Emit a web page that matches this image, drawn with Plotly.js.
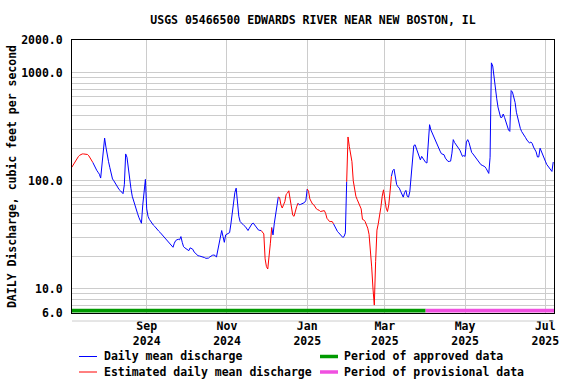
<!DOCTYPE html>
<html><head><meta charset="utf-8">
<script src="https://cdn.plot.ly/plotly-3.0.1.min.js"></script>
<style>html,body{margin:0;padding:0;background:#fff}</style>
</head><body><div id="chart" style="width:576px;height:384px"></div>
<script>
// ---- data (daily mean discharge, cfs), starting 2024-07-06 ----
const startDate = '2024-07-06';
const discharge = [
  // Jul 6-31 2024
  133,140,148,155,160,167,172,175,177,177,176,176,175,170,162,155,148,138,130,125,120,115,106,136,200,248,
  // Aug
  205,168,150,132,115,104,100,95,90,86,83,81,78,76,92,177,165,128,100,85,72,65,60,55,50,46,42,40.5,60,85,103,
  // Sep
  55,47,44,42,40.5,39,38,36.5,35.5,34.4,33.5,32.5,31.5,30.5,29.5,28.5,27.5,26.8,26,25.2,24.3,26.5,28,28.5,28.8,28.5,30.5,27,24.6,24,
  // Oct
  23.5,23,22.6,24,23.8,23.3,22,21.3,20.8,20.3,20.2,20.1,20,19.9,19.5,19.2,19.2,19.3,19.8,20.3,20.5,20.6,20.4,19.7,23,27,31,34.7,30.5,27,31.6,
  // Nov
  32,32.5,33.2,40,52,66,78,85.5,58,47,42,40.5,39.5,38.5,37.7,36.5,34.7,36.5,38.5,40,40.6,39,37,35.5,35,34.8,34.7,33.5,32.3,19,
  // Dec
  16.1,15.3,19.2,26.5,37,31.6,40.6,50,60,70.6,70,60,56,60,64.3,75,77,80.8,68,55,48,47,54,57.8,62,60,60.5,61,62,63,66,
  // Jan 2025
  84,80,68,63,61,60,57,55,54,53.5,52,52.5,53,53,50,45,43.5,42,42,42,40,37.5,35,34,33,32,30.5,30,30.5,33,98,
  // Feb
  254,208,175,150,100,82,72,67,62,59,55,44,43.5,42,39,36.5,32,24,16,10,7.1,18,35,40,46,57,72,82.5,
  // Mar
  68,56,52,60,80,110,124,128,102,92,88,85.5,80,75,70.6,77.9,81.5,72,70.6,79.6,110,165,211,215,200,185,170,156,168,160,154,
  // Apr
  148,146,210,330,295,275,257,240,228,212,200,188,178,176,174,162,155,151,151,152,180,240,226,218,208,200,192,180,168,171,
  // May
  168,228,240,225,198,183,177,170,163,155,149,144,141,139,138,135,130,122,117,165,1230,1150,880,690,580,480,420,385,385,414,385,
  // Jun
  345,315,295,286,682,660,600,530,430,380,340,305,285,270,262,250,238,228,223,228,222,205,195,185,166,166,200,185,175,160,
  // Jul 1-7
  152,142,136,130,125,122,149
];
// estimated (red) periods, inclusive
const estimatedStart = ['2024-07-06','2024-11-27','2024-12-10','2025-01-01','2025-01-31'];
const estimatedEnd   = ['2024-07-22','2024-12-05','2024-12-25','2025-01-21','2025-03-06'];
// data-approval periods
const approvedPeriod = ['2024-07-05','2025-04-01'];
const provisionalPeriod = ['2025-04-01','2025-07-08'];
// axes
const xRange = ['2024-07-06 05:00','2025-07-07 14:00'];
const xTickVals = ['2024-09-01','2024-11-01','2025-01-01','2025-03-01','2025-05-01','2025-07-01'];
const xTickText = ['Sep<br>2024','Nov<br>2024','Jan<br>2025','Mar<br>2025','May<br>2025','Jul<br>2025'];
const yTickVals = [6,7,8,9,10,20,30,40,50,60,70,80,90,100,200,300,400,500,600,700,800,900,1000,2000];
const yLabeled = {6:'6.0',10:'10.0',100:'100.0',1000:'1000.0',2000:'2000.0'};
const yRange = [6,2000];
const titleText = 'USGS 05466500 EDWARDS RIVER NEAR NEW BOSTON, IL';
const yTitleText = 'DAILY Discharge, cubic feet per second';
const legendLabels = ['Daily mean discharge','Estimated daily mean discharge','Period of approved data','Period of provisional data'];

// ---- build ----
const [sy, sm, sd] = startDate.split('-').map(Number);
const dates = discharge.map((_, i) => {
  const t = Date.UTC(sy, sm - 1, sd) + i * 86400000;
  return new Date(t).toISOString().slice(0, 10);
});
function isEst(d, strict) {
  for (let k = 0; k < estimatedStart.length; k++) {
    if (strict ? (d > estimatedStart[k] && d < estimatedEnd[k]) : (d >= estimatedStart[k] && d <= estimatedEnd[k])) return true;
  }
  return false;
}
const blueY = discharge.map((v, i) => isEst(dates[i], true) ? null : v);
const redY = discharge.map((v, i) => isEst(dates[i], false) ? v : null);

const FONT = 'DejaVu Sans Mono, Liberation Mono, monospace';
const fnt = (s) => ({family: FONT, size: s, color: '#000', weight: 'bold'});

const P = {l: 72, r: 554, t: 40, b: 313};
const px = x => (x - P.l) / (P.r - P.l);
const py = y => (P.b - y) / (P.b - P.t);

const traces = [
  {x: dates, y: blueY, type: 'scatter', mode: 'lines', line: {color: '#0000ff', width: 1}, connectgaps: false, hoverinfo: 'x+y'},
  {x: dates, y: redY, type: 'scatter', mode: 'lines', line: {color: '#ff0000', width: 1}, connectgaps: false, hoverinfo: 'x+y'}
];

const shapes = [
  {type: 'rect', xref: 'x', yref: 'paper', x0: approvedPeriod[0], x1: approvedPeriod[1], y0: py(312.4), y1: py(308.8), fillcolor: '#009a00', line: {width: 0}},
  {type: 'rect', xref: 'x', yref: 'paper', x0: provisionalPeriod[0], x1: provisionalPeriod[1], y0: py(312.4), y1: py(308.8), fillcolor: '#f050e0', line: {width: 0}},
  {type: 'line', xref: 'paper', yref: 'paper', x0: 0, x1: 1, y0: py(321), y1: py(321), line: {color: '#cccccc', width: 1}},
  // legend symbols
  {type: 'line', xref: 'paper', yref: 'paper', x0: px(79), x1: px(97), y0: py(356.5), y1: py(356.5), line: {color: '#0000ff', width: 1}},
  {type: 'line', xref: 'paper', yref: 'paper', x0: px(79), x1: px(97), y0: py(372), y1: py(372), line: {color: '#ff0000', width: 1}},
  {type: 'line', xref: 'paper', yref: 'paper', x0: px(320), x1: px(338), y0: py(356.5), y1: py(356.5), line: {color: '#009a00', width: 3.5}},
  {type: 'line', xref: 'paper', yref: 'paper', x0: px(320), x1: px(338), y0: py(372), y1: py(372), line: {color: '#f050e0', width: 3.5}}
];

const annotations = [
  {text: legendLabels[0], xref: 'paper', yref: 'paper', x: px(102), y: py(356.5), xanchor: 'left', yanchor: 'middle', showarrow: false, font: fnt(11.5)},
  {text: legendLabels[1], xref: 'paper', yref: 'paper', x: px(102), y: py(372), xanchor: 'left', yanchor: 'middle', showarrow: false, font: fnt(11.5)},
  {text: legendLabels[2], xref: 'paper', yref: 'paper', x: px(342), y: py(356.5), xanchor: 'left', yanchor: 'middle', showarrow: false, font: fnt(11.5)},
  {text: legendLabels[3], xref: 'paper', yref: 'paper', x: px(342), y: py(372), xanchor: 'left', yanchor: 'middle', showarrow: false, font: fnt(11.5)}
];

const layout = {
  width: 576, height: 384,
  margin: {l: P.l, r: 576 - P.r, t: P.t, b: 384 - P.b, pad: 0},
  paper_bgcolor: '#ffffff', plot_bgcolor: '#ffffff',
  showlegend: false,
  title: {text: titleText, font: fnt(11.5), xref: 'paper', x: 0.5, xanchor: 'center', yref: 'container', y: 1 - 19.5 / 384, yanchor: 'middle'},
  xaxis: {
    type: 'date', range: xRange, tickmode: 'array', tickvals: xTickVals, ticktext: xTickText,
    showgrid: true, gridcolor: '#cccccc', gridwidth: 1, zeroline: false,
    showline: true, linecolor: '#000', linewidth: 1, mirror: true, ticks: '',
    tickfont: fnt(11.5), ticklabelstandoff: 2
  },
  yaxis: {
    type: 'log', range: [Math.log10(yRange[0]), Math.log10(yRange[1])],
    tickmode: 'array', tickvals: yTickVals, ticktext: yTickVals.map(v => yLabeled[v] || ''),
    showgrid: true, gridcolor: '#cccccc', gridwidth: 1, zeroline: false,
    showline: true, linecolor: '#000', linewidth: 1, mirror: true, ticks: '',
    tickfont: fnt(11.5), ticklabelstandoff: 6,
    title: {text: yTitleText, font: fnt(11.5), standoff: 2}
  },
  shapes: shapes, annotations: annotations
};

Plotly.newPlot('chart', traces, layout, {displayModeBar: false, staticPlot: true});
</script></body></html>
